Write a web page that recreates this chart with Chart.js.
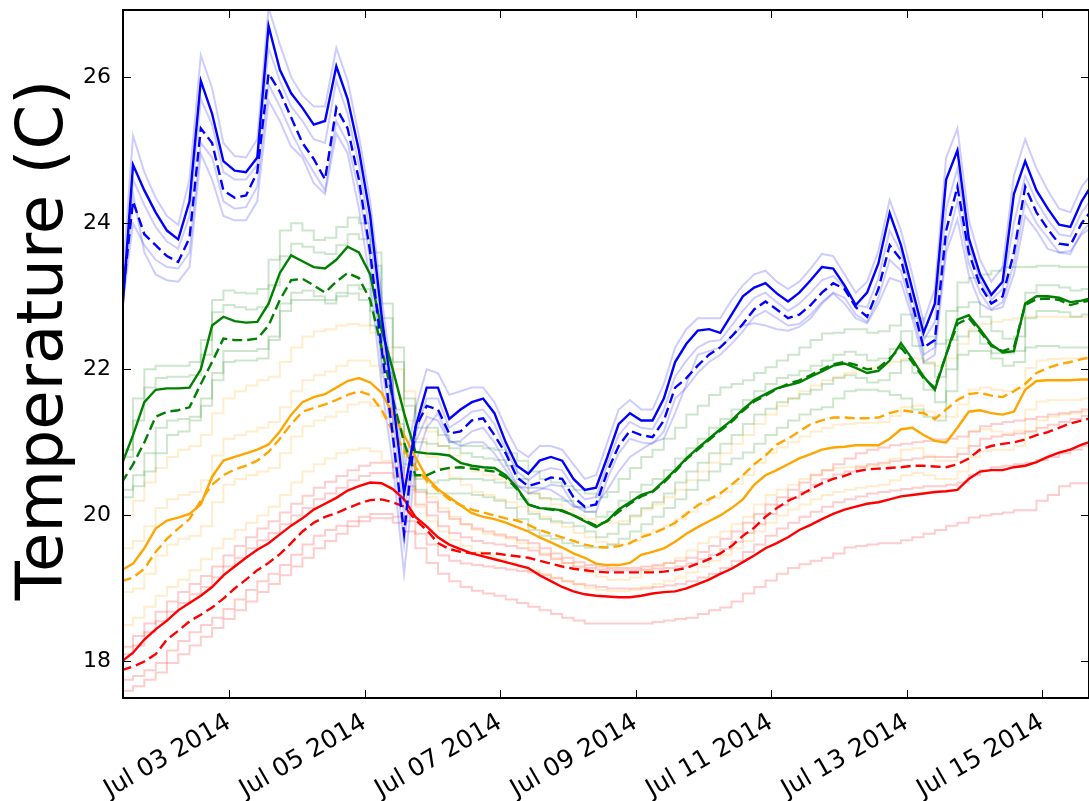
<!DOCTYPE html>
<html>
<head>
<meta charset="utf-8">
<script src="https://cdn.jsdelivr.net/npm/chart.js@4.4.1/dist/chart.umd.min.js"></script>
<style>
  html, body { margin: 0; padding: 0; background: #fff; }
  canvas { display: block; }
</style>
</head>
<body>
<canvas id="c" width="1089" height="801"></canvas>
<script>
// Readings every 4 hours, time in hours since 2014-07-01 00:00
const T_START = 10, T_STEP = 4, N_READINGS = 87;
const HOURS = Array.from({ length: N_READINGS }, (_, i) => T_START + i * T_STEP);

const DATE_TICKS = [48, 96, 144, 192, 240, 288, 336];
const DATE_LABELS = ['Jul 03 2014', 'Jul 05 2014', 'Jul 07 2014', 'Jul 09 2014',
                     'Jul 11 2014', 'Jul 13 2014', 'Jul 15 2014'];
const TEMP_TICKS = [18, 20, 22, 24, 26];

// ---- blue group ----
const BLUE_MEAN = [22.7, 24.8, 24.45, 24.15, 23.9, 23.78, 24.3, 25.95, 25.5, 24.85,
  24.72, 24.7, 24.9, 26.7, 26.1, 25.78, 25.58, 25.35, 25.4, 26.15,
  25.7, 25.0, 24.1, 22.75, 21.6, 20.3, 21.2, 21.75, 21.75, 21.32,
  21.45, 21.55, 21.6, 21.4, 21.0, 20.68, 20.57, 20.75, 20.8, 20.75,
  20.5, 20.35, 20.38, 20.8, 21.25, 21.4, 21.3, 21.3, 21.6, 22.1,
  22.35, 22.53, 22.55, 22.5, 22.75, 23.0, 23.12, 23.18, 23.04, 22.93,
  23.05, 23.22, 23.4, 23.38, 23.15, 22.88, 23.05, 23.45, 24.14, 23.7,
  23.1, 22.5, 22.9, 24.6, 25.0, 23.8, 23.3, 23.02, 23.2, 24.4,
  24.85, 24.45, 24.2, 23.98, 23.95, 24.3, 24.55];
const BLUE_MEDIAN = [22.9, 24.3, 23.85, 23.7, 23.55, 23.47, 23.8, 25.3, 25.1, 24.45,
  24.35, 24.38, 24.7, 26.05, 25.8, 25.45, 25.1, 24.88, 24.6, 25.58,
  25.3, 24.6, 23.6, 22.3, 21.1, 19.75, 21.2, 21.5, 21.45, 21.12,
  21.15, 21.3, 21.33, 21.1, 20.85, 20.52, 20.4, 20.45, 20.52, 20.5,
  20.25, 20.12, 20.15, 20.6, 20.95, 21.16, 21.1, 21.07, 21.3, 21.75,
  21.88, 22.05, 22.2, 22.3, 22.45, 22.62, 22.82, 22.93, 22.82, 22.7,
  22.75, 22.88, 23.05, 23.18, 23.1, 22.85, 22.72, 23.1, 23.7, 23.5,
  22.9, 22.3, 22.4, 23.9, 24.5, 23.6, 23.15, 22.9, 23.0, 23.6,
  24.5, 24.15, 23.92, 23.72, 23.7, 24.0, 24.2];
const BLUE_S1 = [23.1, 25.2, 24.7, 24.35, 24.1, 23.98, 24.6, 26.3, 25.85, 25.1,
  24.92, 24.9, 25.15, 26.95, 26.45, 26.0, 25.75, 25.6, 25.6, 26.4,
  25.95, 25.2, 24.3, 23.0, 21.8, 20.6, 21.45, 22.0, 21.95, 21.65,
  21.7, 21.75, 21.75, 21.55, 21.2, 20.9, 20.8, 20.95, 20.95, 20.9,
  20.7, 20.5, 20.55, 21.0, 21.45, 21.58, 21.45, 21.45, 21.8, 22.3,
  22.55, 22.7, 22.7, 22.7, 22.95, 23.15, 23.3, 23.35, 23.2, 23.1,
  23.2, 23.38, 23.58, 23.55, 23.3, 23.05, 23.2, 23.62, 24.32, 23.9,
  23.3, 22.65, 23.1, 24.9, 25.3, 24.05, 23.5, 23.2, 23.4, 24.65,
  25.15, 24.75, 24.45, 24.2, 24.15, 24.5, 24.7];
const BLUE_S2 = [22.9, 24.6, 24.25, 23.95, 23.75, 23.65, 24.1, 25.7, 25.35, 24.7,
  24.6, 24.6, 24.8, 26.4, 25.95, 25.6, 25.4, 25.15, 25.1, 25.95,
  25.5, 24.8, 23.85, 22.55, 21.35, 20.0, 21.1, 21.6, 21.6, 21.2,
  21.3, 21.42, 21.45, 21.25, 20.9, 20.6, 20.48, 20.6, 20.65, 20.62,
  20.38, 20.22, 20.25, 20.7, 21.1, 21.28, 21.2, 21.18, 21.45, 21.9,
  22.12, 22.3, 22.38, 22.4, 22.6, 22.8, 22.98, 23.05, 22.92, 22.8,
  22.9, 23.05, 23.22, 23.28, 23.12, 22.88, 22.85, 23.25, 23.9, 23.6,
  23.0, 22.4, 22.65, 24.2, 24.75, 23.7, 23.22, 22.95, 23.1, 24.0,
  24.65, 24.3, 24.05, 23.85, 23.82, 24.15, 24.35];
const BLUE_S3 = [22.8, 24.0, 23.7, 23.5, 23.4, 23.38, 23.6, 25.1, 24.9, 24.3,
  24.2, 24.22, 24.5, 25.9, 25.6, 25.25, 24.95, 24.7, 24.45, 25.4,
  25.1, 24.45, 23.5, 22.1, 21.0, 19.6, 21.0, 21.35, 21.3, 21.0,
  21.02, 21.15, 21.2, 21.0, 20.72, 20.42, 20.3, 20.35, 20.42, 20.4,
  20.15, 20.05, 20.05, 20.5, 20.85, 21.05, 21.0, 20.98, 21.15, 21.6,
  21.75, 21.95, 22.1, 22.2, 22.35, 22.52, 22.72, 22.8, 22.7, 22.6,
  22.62, 22.75, 22.92, 23.05, 22.98, 22.75, 22.65, 22.98, 23.5, 23.35,
  22.8, 22.2, 22.3, 23.7, 24.3, 23.45, 23.05, 22.82, 22.92, 23.45,
  24.3, 24.0, 23.8, 23.6, 23.58, 23.88, 24.05];
const BLUE_S4 = [22.7, 24.4, 23.6, 23.3, 23.22, 23.2, 23.4, 24.95, 24.6, 24.1,
  24.04, 24.04, 24.3, 25.68, 25.4, 25.05, 24.9, 24.55, 24.4, 25.23,
  24.96, 24.2, 23.2, 21.8, 20.7, 19.2, 20.7, 21.2, 21.4, 21.03,
  20.95, 21.0, 21.0, 20.85, 20.62, 20.4, 20.38, 20.38, 20.35, 20.25,
  20.12, 20.1, 20.15, 20.35, 20.6, 20.8, 20.9, 21.0, 21.05, 21.4,
  21.8, 22.2, 22.25, 22.3, 22.45, 22.6, 22.63, 22.6, 22.55, 22.53,
  22.58, 22.7, 22.9, 23.04, 22.9, 22.7, 22.63, 22.9, 23.25, 23.2,
  22.7, 22.1, 22.2, 23.6, 24.05, 23.3, 22.9, 22.81, 22.85, 23.3,
  24.1, 23.9, 23.65, 23.6, 23.62, 23.85, 23.95];

// ---- green group ----
const GREEN_MEAN = [20.7, 21.1, 21.55, 21.72, 21.74, 21.74, 21.75, 22.0, 22.6, 22.72,
  22.66, 22.64, 22.65, 22.9, 23.32, 23.56, 23.48, 23.4, 23.38, 23.5,
  23.68, 23.6, 23.3, 22.55, 22.0, 21.4, 20.87, 20.85, 20.84, 20.82,
  20.72, 20.68, 20.66, 20.65, 20.55, 20.38, 20.15, 20.1, 20.09, 20.07,
  20.0, 19.92, 19.84, 19.93, 20.08, 20.18, 20.28, 20.33, 20.47, 20.62,
  20.78, 20.92, 21.05, 21.18, 21.3, 21.45, 21.58, 21.66, 21.74, 21.78,
  21.82, 21.9, 21.97, 22.05, 22.08, 22.02, 21.95, 21.98, 22.12, 22.36,
  22.14, 21.9, 21.72, 22.2, 22.68, 22.74, 22.55, 22.34, 22.23, 22.25,
  22.9, 23.0, 23.0, 22.98, 22.92, 22.94, 22.98];
const GREEN_MEDIAN = [20.45, 20.7, 21.0, 21.35, 21.42, 21.44, 21.48, 21.8, 22.1, 22.42,
  22.4, 22.4, 22.42, 22.6, 22.95, 23.22, 23.24, 23.15, 23.05, 23.2,
  23.32, 23.25, 22.95, 22.3, 21.6, 21.0, 20.55, 20.55, 20.62, 20.65,
  20.66, 20.64, 20.62, 20.6, 20.52, 20.36, 20.15, 20.1, 20.08, 20.06,
  20.0, 19.93, 19.86, 19.92, 20.05, 20.16, 20.26, 20.32, 20.45, 20.6,
  20.77, 20.9, 21.03, 21.16, 21.28, 21.43, 21.56, 21.64, 21.73, 21.8,
  21.85, 21.92, 22.0, 22.07, 22.1, 22.06, 22.0, 22.02, 22.15, 22.3,
  22.1, 21.88, 21.75, 22.2, 22.62, 22.7, 22.52, 22.32, 22.25, 22.3,
  22.88, 22.96, 22.97, 22.95, 22.88, 22.92, 22.95];
const GREEN_S1 = [20.9, 21.6, 22.0, 22.05, 22.05, 22.05, 22.1, 22.4, 22.95, 23.08,
  23.05, 23.04, 23.1, 23.5, 23.9, 24.0, 23.9, 23.77, 23.8, 23.95,
  24.08, 24.0, 23.6, 22.9, 22.3, 21.6, 21.2, 21.2, 21.1, 21.0,
  20.95, 20.95, 20.92, 20.9, 20.85, 20.75, 20.6, 20.5, 20.45, 20.4,
  20.35, 20.3, 20.25, 20.32, 20.5, 20.65, 20.8, 20.9, 21.05, 21.2,
  21.38, 21.5, 21.65, 21.75, 21.8, 21.85, 21.95, 22.03, 22.12, 22.2,
  22.3, 22.4, 22.49, 22.5, 22.55, 22.55, 22.5, 22.52, 22.6, 22.75,
  22.7, 22.45, 22.35, 22.8, 23.19, 23.25, 23.3, 23.35, 23.4, 23.4,
  23.4, 23.42, 23.42, 23.4, 23.4, 23.4, 23.4];
const GREEN_S2 = [20.8, 21.3, 21.75, 21.88, 21.9, 21.9, 21.92, 22.2, 22.78, 22.88,
  22.85, 22.82, 22.85, 23.15, 23.55, 23.72, 23.68, 23.6, 23.58, 23.7,
  23.85, 23.78, 23.42, 22.7, 22.1, 21.5, 21.0, 20.98, 20.95, 20.92,
  20.85, 20.8, 20.78, 20.76, 20.68, 20.5, 20.3, 20.24, 20.22, 20.2,
  20.12, 20.05, 19.98, 20.05, 20.2, 20.32, 20.42, 20.5, 20.62, 20.78,
  20.92, 21.05, 21.2, 21.32, 21.45, 21.58, 21.7, 21.8, 21.88, 21.92,
  21.98, 22.05, 22.12, 22.2, 22.24, 22.2, 22.12, 22.15, 22.28, 22.52,
  22.32, 22.08, 21.9, 22.4, 22.85, 22.92, 22.72, 22.52, 22.42, 22.45,
  23.05, 23.15, 23.15, 23.12, 23.08, 23.1, 23.12];
const GREEN_S3 = [20.35, 20.55, 20.85, 21.2, 21.3, 21.32, 21.35, 21.6, 21.95, 22.25,
  22.25, 22.25, 22.28, 22.45, 22.8, 23.05, 23.08, 23.0, 22.9, 23.05,
  23.15, 23.1, 22.8, 22.15, 21.45, 20.85, 20.5, 20.45, 20.48, 20.5,
  20.5, 20.5, 20.48, 20.45, 20.38, 20.22, 20.02, 19.95, 19.92, 19.9,
  19.85, 19.78, 19.7, 19.75, 19.88, 20.0, 20.1, 20.18, 20.3, 20.45,
  20.6, 20.72, 20.85, 20.98, 21.1, 21.25, 21.38, 21.46, 21.55, 21.6,
  21.66, 21.72, 21.8, 21.88, 21.92, 21.88, 21.82, 21.85, 21.95, 22.12,
  21.95, 21.72, 21.55, 22.0, 22.45, 22.52, 22.35, 22.15, 22.05, 22.1,
  22.7, 22.8, 22.8, 22.78, 22.72, 22.75, 22.78];
const GREEN_S4 = [20.25, 20.4, 20.6, 20.85, 21.1, 21.15, 21.3, 21.5, 21.85, 22.1,
  22.12, 22.12, 22.15, 22.4, 22.9, 22.95, 22.95, 22.95, 22.95, 23.0,
  23.04, 22.95, 22.6, 21.95, 21.25, 20.7, 20.35, 20.3, 20.3, 20.3,
  20.3, 20.28, 20.25, 20.2, 20.1, 19.95, 19.8, 19.72, 19.68, 19.62,
  19.58, 19.56, 19.56, 19.6, 19.68, 19.78, 19.88, 19.98, 20.1, 20.22,
  20.35, 20.48, 20.6, 20.7, 20.78, 20.86, 20.98, 21.1, 21.2, 21.3,
  21.38, 21.45, 21.48, 21.6, 21.7, 21.72, 21.72, 21.7, 21.65, 21.6,
  21.45, 21.35, 21.3, 21.7, 22.2, 22.25, 22.25, 22.22, 22.22, 22.25,
  22.3, 22.32, 22.32, 22.3, 22.3, 22.3, 22.3];

// ---- orange group ----
const ORANGE_MEAN = [19.25, 19.34, 19.55, 19.82, 19.93, 19.97, 20.02, 20.15, 20.53, 20.75,
  20.8, 20.85, 20.9, 20.97, 21.15, 21.38, 21.55, 21.62, 21.66, 21.75,
  21.84, 21.88, 21.82, 21.68, 21.4, 21.1, 20.8, 20.52, 20.36, 20.25,
  20.14, 20.03, 19.98, 19.95, 19.9, 19.84, 19.78, 19.7, 19.63, 19.56,
  19.48, 19.42, 19.34, 19.32, 19.32, 19.35, 19.46, 19.5, 19.55, 19.64,
  19.75, 19.84, 19.92, 20.0, 20.1, 20.22, 20.42, 20.55, 20.62, 20.7,
  20.78, 20.84, 20.9, 20.93, 20.94, 20.96, 20.96, 20.96, 21.05, 21.18,
  21.2, 21.1, 21.02, 21.0, 21.2, 21.42, 21.44, 21.4, 21.38, 21.42,
  21.72, 21.84, 21.85, 21.85, 21.85, 21.86, 21.86];
const ORANGE_MEDIAN = [19.1, 19.15, 19.27, 19.5, 19.68, 19.82, 19.95, 20.2, 20.42, 20.55,
  20.63, 20.68, 20.75, 20.87, 21.05, 21.25, 21.42, 21.47, 21.52, 21.58,
  21.65, 21.7, 21.65, 21.45, 21.15, 20.9, 20.66, 20.48, 20.34, 20.22,
  20.14, 20.08, 20.04, 20.0, 19.96, 19.93, 19.87, 19.8, 19.75, 19.7,
  19.65, 19.6, 19.57, 19.56, 19.58, 19.62, 19.7, 19.75, 19.82, 19.9,
  20.02, 20.14, 20.22, 20.3, 20.42, 20.55, 20.7, 20.82, 20.97, 21.05,
  21.15, 21.25, 21.3, 21.34, 21.34, 21.33, 21.33, 21.34, 21.4, 21.44,
  21.42, 21.4, 21.32, 21.45, 21.58, 21.66, 21.68, 21.64, 21.62, 21.7,
  21.8, 21.95, 22.02, 22.07, 22.1, 22.14, 22.17];
const ORANGE_S1 = [20.0, 20.2, 20.45, 20.65, 20.8, 20.9, 20.95, 21.1, 21.4, 21.6,
  21.7, 21.78, 21.85, 21.9, 22.1, 22.3, 22.45, 22.52, 22.55, 22.6,
  22.62, 22.6, 22.5, 22.3, 22.0, 21.7, 21.4, 21.15, 20.95, 20.82,
  20.7, 20.6, 20.55, 20.5, 20.45, 20.38, 20.3, 20.22, 20.15, 20.08,
  20.0, 19.95, 19.9, 19.9, 19.92, 19.98, 20.08, 20.15, 20.25, 20.35,
  20.48, 20.6, 20.72, 20.85, 20.98, 21.1, 21.25, 21.38, 21.5, 21.6,
  21.7, 21.78, 21.85, 21.9, 21.95, 22.0, 22.02, 22.05, 22.1, 22.15,
  22.15, 22.1, 22.05, 22.15, 22.35, 22.55, 22.62, 22.65, 22.68, 22.7,
  22.72, 22.72, 22.72, 22.72, 22.72, 22.72, 22.72];
const ORANGE_S2 = [19.55, 19.65, 19.85, 20.1, 20.22, 20.28, 20.32, 20.48, 20.82, 21.05,
  21.1, 21.15, 21.2, 21.28, 21.48, 21.7, 21.85, 21.92, 21.97, 22.05,
  22.12, 22.12, 22.05, 21.9, 21.6, 21.3, 21.05, 20.8, 20.65, 20.52,
  20.42, 20.32, 20.28, 20.22, 20.18, 20.12, 20.05, 19.98, 19.9, 19.84,
  19.76, 19.7, 19.64, 19.6, 19.6, 19.65, 19.75, 19.8, 19.86, 19.95,
  20.05, 20.15, 20.24, 20.32, 20.43, 20.55, 20.72, 20.85, 20.93, 21.0,
  21.08, 21.15, 21.2, 21.24, 21.25, 21.27, 21.27, 21.28, 21.36, 21.48,
  21.5, 21.42, 21.35, 21.35, 21.52, 21.72, 21.75, 21.72, 21.7, 21.74,
  22.02, 22.12, 22.14, 22.15, 22.15, 22.16, 22.16];
const ORANGE_S3 = [18.95, 19.0, 19.2, 19.45, 19.6, 19.68, 19.72, 19.85, 20.18, 20.42,
  20.5, 20.55, 20.6, 20.65, 20.85, 21.08, 21.22, 21.3, 21.35, 21.42,
  21.52, 21.55, 21.5, 21.35, 21.05, 20.8, 20.52, 20.25, 20.1, 19.98,
  19.88, 19.8, 19.75, 19.72, 19.68, 19.62, 19.56, 19.48, 19.42, 19.35,
  19.28, 19.22, 19.16, 19.12, 19.12, 19.15, 19.25, 19.3, 19.35, 19.42,
  19.52, 19.62, 19.7, 19.78, 19.88, 19.98, 20.15, 20.28, 20.35, 20.42,
  20.5, 20.56, 20.62, 20.65, 20.66, 20.68, 20.68, 20.7, 20.78, 20.9,
  20.92, 20.82, 20.75, 20.75, 20.92, 21.15, 21.18, 21.15, 21.12, 21.16,
  21.45, 21.56, 21.58, 21.58, 21.58, 21.6, 21.6];
const ORANGE_S4 = [18.5, 18.6, 18.75, 18.9, 19.02, 19.12, 19.25, 19.4, 19.55, 19.68,
  19.8, 19.9, 20.0, 20.12, 20.28, 20.45, 20.6, 20.7, 20.78, 20.85,
  20.9, 20.92, 20.88, 20.75, 20.55, 20.35, 20.12, 19.92, 19.78, 19.66,
  19.58, 19.5, 19.45, 19.4, 19.35, 19.3, 19.25, 19.2, 19.15, 19.1,
  19.05, 19.0, 18.98, 18.96, 18.96, 18.98, 19.02, 19.06, 19.1, 19.15,
  19.22, 19.3, 19.38, 19.46, 19.55, 19.65, 19.78, 19.9, 20.0, 20.08,
  20.15, 20.22, 20.28, 20.32, 20.35, 20.38, 20.4, 20.42, 20.48, 20.55,
  20.58, 20.55, 20.5, 20.5, 20.6, 20.8, 20.88, 20.9, 20.9, 20.95,
  21.15, 21.3, 21.35, 21.38, 21.4, 21.42, 21.42];

// ---- red group ----
const RED_MEAN = [18.0, 18.12, 18.3, 18.44, 18.56, 18.7, 18.8, 18.9, 19.02, 19.18,
  19.3, 19.42, 19.53, 19.62, 19.74, 19.86, 19.96, 20.08, 20.16, 20.24,
  20.34, 20.4, 20.45, 20.44, 20.36, 20.22, 19.98, 19.85, 19.7, 19.6,
  19.54, 19.48, 19.44, 19.4, 19.36, 19.32, 19.28, 19.18, 19.1, 19.02,
  18.96, 18.92, 18.9, 18.89, 18.88, 18.88, 18.9, 18.93, 18.95, 18.96,
  19.0, 19.06, 19.12, 19.2, 19.27, 19.36, 19.45, 19.55, 19.62, 19.7,
  19.8, 19.87, 19.95, 20.02, 20.08, 20.12, 20.16, 20.18, 20.22, 20.26,
  20.28, 20.3, 20.32, 20.33, 20.35, 20.5, 20.6, 20.62, 20.62, 20.66,
  20.68, 20.73, 20.8, 20.86, 20.9, 20.97, 21.02];
const RED_MEDIAN = [17.88, 17.93, 18.0, 18.1, 18.3, 18.42, 18.55, 18.64, 18.74, 18.86,
  19.0, 19.12, 19.25, 19.35, 19.47, 19.62, 19.78, 19.9, 19.98, 20.03,
  20.1, 20.16, 20.21, 20.22, 20.18, 20.12, 19.94, 19.8, 19.62, 19.54,
  19.5, 19.48, 19.48, 19.48, 19.46, 19.44, 19.42, 19.38, 19.34, 19.3,
  19.27, 19.25, 19.23, 19.22, 19.22, 19.22, 19.22, 19.22, 19.23, 19.25,
  19.28, 19.34, 19.4, 19.48, 19.58, 19.72, 19.83, 19.98, 20.1, 20.2,
  20.27, 20.36, 20.44, 20.5, 20.54, 20.6, 20.63, 20.64, 20.65, 20.66,
  20.68, 20.68, 20.67, 20.66, 20.7, 20.78, 20.9, 20.95, 20.98, 21.0,
  21.04, 21.1, 21.14, 21.2, 21.26, 21.3, 21.34];
const RED_S1 = [18.2, 18.35, 18.52, 18.68, 18.82, 18.95, 19.06, 19.17, 19.3, 19.45,
  19.58, 19.7, 19.82, 19.92, 20.04, 20.16, 20.27, 20.38, 20.46, 20.54,
  20.62, 20.68, 20.72, 20.72, 20.66, 20.55, 20.32, 20.18, 20.05, 19.95,
  19.88, 19.82, 19.78, 19.74, 19.7, 19.66, 19.62, 19.55, 19.48, 19.42,
  19.36, 19.32, 19.3, 19.28, 19.28, 19.28, 19.3, 19.32, 19.35, 19.38,
  19.42, 19.5, 19.58, 19.68, 19.78, 19.9, 20.02, 20.15, 20.25, 20.35,
  20.45, 20.55, 20.62, 20.7, 20.78, 20.85, 20.9, 20.93, 20.96, 20.98,
  21.0, 21.02, 21.04, 21.05, 21.08, 21.15, 21.22, 21.25, 21.28, 21.3,
  21.32, 21.35, 21.38, 21.4, 21.42, 21.45, 21.48];
const RED_S2 = [18.1, 18.22, 18.4, 18.55, 18.68, 18.8, 18.92, 19.02, 19.15, 19.3,
  19.42, 19.55, 19.66, 19.76, 19.88, 20.0, 20.1, 20.22, 20.3, 20.38,
  20.48, 20.54, 20.58, 20.58, 20.52, 20.4, 20.15, 20.0, 19.85, 19.76,
  19.7, 19.65, 19.62, 19.6, 19.58, 19.55, 19.52, 19.46, 19.4, 19.35,
  19.3, 19.28, 19.26, 19.25, 19.25, 19.25, 19.26, 19.27, 19.28, 19.3,
  19.34, 19.4, 19.46, 19.54, 19.64, 19.76, 19.88, 20.02, 20.14, 20.24,
  20.32, 20.42, 20.5, 20.56, 20.6, 20.66, 20.7, 20.72, 20.74, 20.76,
  20.78, 20.8, 20.8, 20.8, 20.84, 20.95, 21.05, 21.08, 21.1, 21.12,
  21.15, 21.2, 21.24, 21.28, 21.32, 21.36, 21.4];
const RED_S3 = [17.75, 17.8, 17.88, 17.98, 18.15, 18.28, 18.4, 18.5, 18.6, 18.72,
  18.85, 18.98, 19.1, 19.2, 19.32, 19.46, 19.6, 19.72, 19.8, 19.86,
  19.92, 19.98, 20.02, 20.02, 19.98, 19.92, 19.75, 19.6, 19.45, 19.38,
  19.34, 19.32, 19.3, 19.28, 19.26, 19.24, 19.22, 19.18, 19.14, 19.1,
  19.06, 19.04, 19.02, 19.0, 19.0, 19.0, 19.0, 19.02, 19.04, 19.06,
  19.1, 19.15, 19.2, 19.28, 19.38, 19.5, 19.6, 19.72, 19.82, 19.9,
  19.98, 20.05, 20.12, 20.18, 20.22, 20.26, 20.3, 20.32, 20.34, 20.36,
  20.38, 20.4, 20.4, 20.42, 20.45, 20.55, 20.62, 20.66, 20.68, 20.7,
  20.72, 20.76, 20.8, 20.85, 20.9, 20.95, 21.0];
const RED_S4 = [17.6, 17.66, 17.75, 17.85, 17.98, 18.1, 18.22, 18.34, 18.46, 18.58,
  18.7, 18.82, 18.95, 19.06, 19.18, 19.3, 19.42, 19.55, 19.65, 19.75,
  19.85, 19.92, 19.96, 19.96, 19.9, 19.78, 19.55, 19.35, 19.2, 19.1,
  19.02, 18.97, 18.93, 18.9, 18.85, 18.8, 18.75, 18.7, 18.65, 18.6,
  18.56, 18.52, 18.52, 18.52, 18.52, 18.52, 18.52, 18.54, 18.56, 18.58,
  18.6, 18.65, 18.7, 18.74, 18.82, 18.93, 19.02, 19.11, 19.2, 19.28,
  19.33, 19.38, 19.42, 19.48, 19.56, 19.58, 19.6, 19.62, 19.62, 19.66,
  19.7, 19.75, 19.8, 19.86, 19.9, 19.97, 20.0, 20.02, 20.04, 20.07,
  20.07, 20.2, 20.28, 20.4, 20.44, 20.44, 20.44];

const COLORS = {
  blue:   { line: '#0000ff', faint: 'rgba(0, 0, 255, 0.2)' },
  green:  { line: '#008000', faint: 'rgba(0, 128, 0, 0.2)' },
  orange: { line: '#ffa500', faint: 'rgba(255, 165, 0, 0.2)' },
  red:    { line: '#ff0000', faint: 'rgba(255, 0, 0, 0.2)' }
};

const toPoints = vals => vals.map((v, i) => ({ x: HOURS[i], y: v }));

function mainLine(vals, color, dashed, order) {
  return {
    data: toPoints(vals), borderColor: color, borderWidth: 2.4,
    borderDash: dashed ? [10, 5] : [], order: order, fill: false
  };
}
function sensorLine(vals, color, stepped) {
  return {
    data: toPoints(vals), borderColor: color, borderWidth: 2,
    stepped: stepped, order: 100, fill: false
  };
}

const groups = [
  { c: COLORS.blue,   mean: BLUE_MEAN,   median: BLUE_MEDIAN,   sensors: [BLUE_S1, BLUE_S2, BLUE_S3, BLUE_S4],         stepped: false, rank: 0 },
  { c: COLORS.green,  mean: GREEN_MEAN,  median: GREEN_MEDIAN,  sensors: [GREEN_S1, GREEN_S2, GREEN_S3, GREEN_S4],     stepped: true,  rank: 10 },
  { c: COLORS.orange, mean: ORANGE_MEAN, median: ORANGE_MEDIAN, sensors: [ORANGE_S1, ORANGE_S2, ORANGE_S3, ORANGE_S4], stepped: true,  rank: 20 },
  { c: COLORS.red,    mean: RED_MEAN,    median: RED_MEDIAN,    sensors: [RED_S1, RED_S2, RED_S3, RED_S4],             stepped: true,  rank: 30 }
];

const datasets = [];
for (const g of groups) {
  datasets.push(mainLine(g.mean, g.c.line, false, g.rank));
  datasets.push(mainLine(g.median, g.c.line, true, g.rank + 1));
  for (const s of g.sensors) datasets.push(sensorLine(s, g.c.faint, g.stepped));
}

// Box frame with inward ticks on all four sides, plus the rotated axis title
const framePlugin = {
  id: 'frame',
  afterDraw(chart) {
    const { ctx, chartArea: a, scales: { x, y } } = chart;
    ctx.save();
    ctx.strokeStyle = '#000';
    ctx.lineWidth = 1;
    ctx.beginPath();
    for (const h of DATE_TICKS) {
      const px = Math.round(x.getPixelForValue(h)) + 0.5;
      ctx.moveTo(px, a.bottom); ctx.lineTo(px, a.bottom - 8);
      ctx.moveTo(px, a.top); ctx.lineTo(px, a.top + 8);
    }
    for (const t of TEMP_TICKS) {
      const py = Math.round(y.getPixelForValue(t)) + 0.5;
      ctx.moveTo(a.left, py); ctx.lineTo(a.left + 8, py);
      ctx.moveTo(a.right, py); ctx.lineTo(a.right - 8, py);
    }
    ctx.stroke();
    ctx.lineWidth = 2;
    ctx.strokeRect(a.left, a.top, a.right - a.left, a.bottom - a.top);

    ctx.fillStyle = '#000';
    ctx.font = '64px "DejaVu Sans"';
    ctx.textAlign = 'center';
    ctx.textBaseline = 'alphabetic';
    ctx.translate(62, (a.top + a.bottom) / 2 - 14);
    ctx.rotate(-Math.PI / 2);
    ctx.fillText('Temperature (C)', 0, 0);
    ctx.restore();
  }
};

new Chart(document.getElementById('c'), {
  type: 'line',
  data: { datasets },
  options: {
    responsive: false,
    animation: false,
    events: [],
    layout: { padding: { top: 10, right: 0, bottom: 0, left: 0 } },
    plugins: { legend: { display: false }, tooltip: { enabled: false } },
    elements: { point: { radius: 0 }, line: { tension: 0 } },
    scales: {
      x: {
        type: 'linear', min: 10.44, max: 352.6,
        afterBuildTicks: s => { s.ticks = DATE_TICKS.map(v => ({ value: v })); },
        afterFit: s => { s.height = 103; s.paddingLeft = 0; s.paddingRight = 0; },
        grid: { display: false, drawTicks: false },
        border: { display: false },
        ticks: {
          autoSkip: false, maxRotation: 30, minRotation: 30, padding: 10,
          color: '#000', font: { family: 'DejaVu Sans', size: 25 },
          callback: v => DATE_LABELS[DATE_TICKS.indexOf(v)]
        }
      },
      y: {
        min: 17.5, max: 26.92,
        afterBuildTicks: s => { s.ticks = TEMP_TICKS.map(v => ({ value: v })); },
        afterFit: s => { s.width = 123; s.paddingTop = 0; s.paddingBottom = 0; },
        grid: { display: false, drawTicks: false },
        border: { display: false },
        ticks: {
          padding: 12, color: '#000', font: { family: 'DejaVu Sans', size: 22 },
          callback: v => String(v)
        }
      }
    }
  },
  plugins: [framePlugin]
});
</script>
</body>
</html>
